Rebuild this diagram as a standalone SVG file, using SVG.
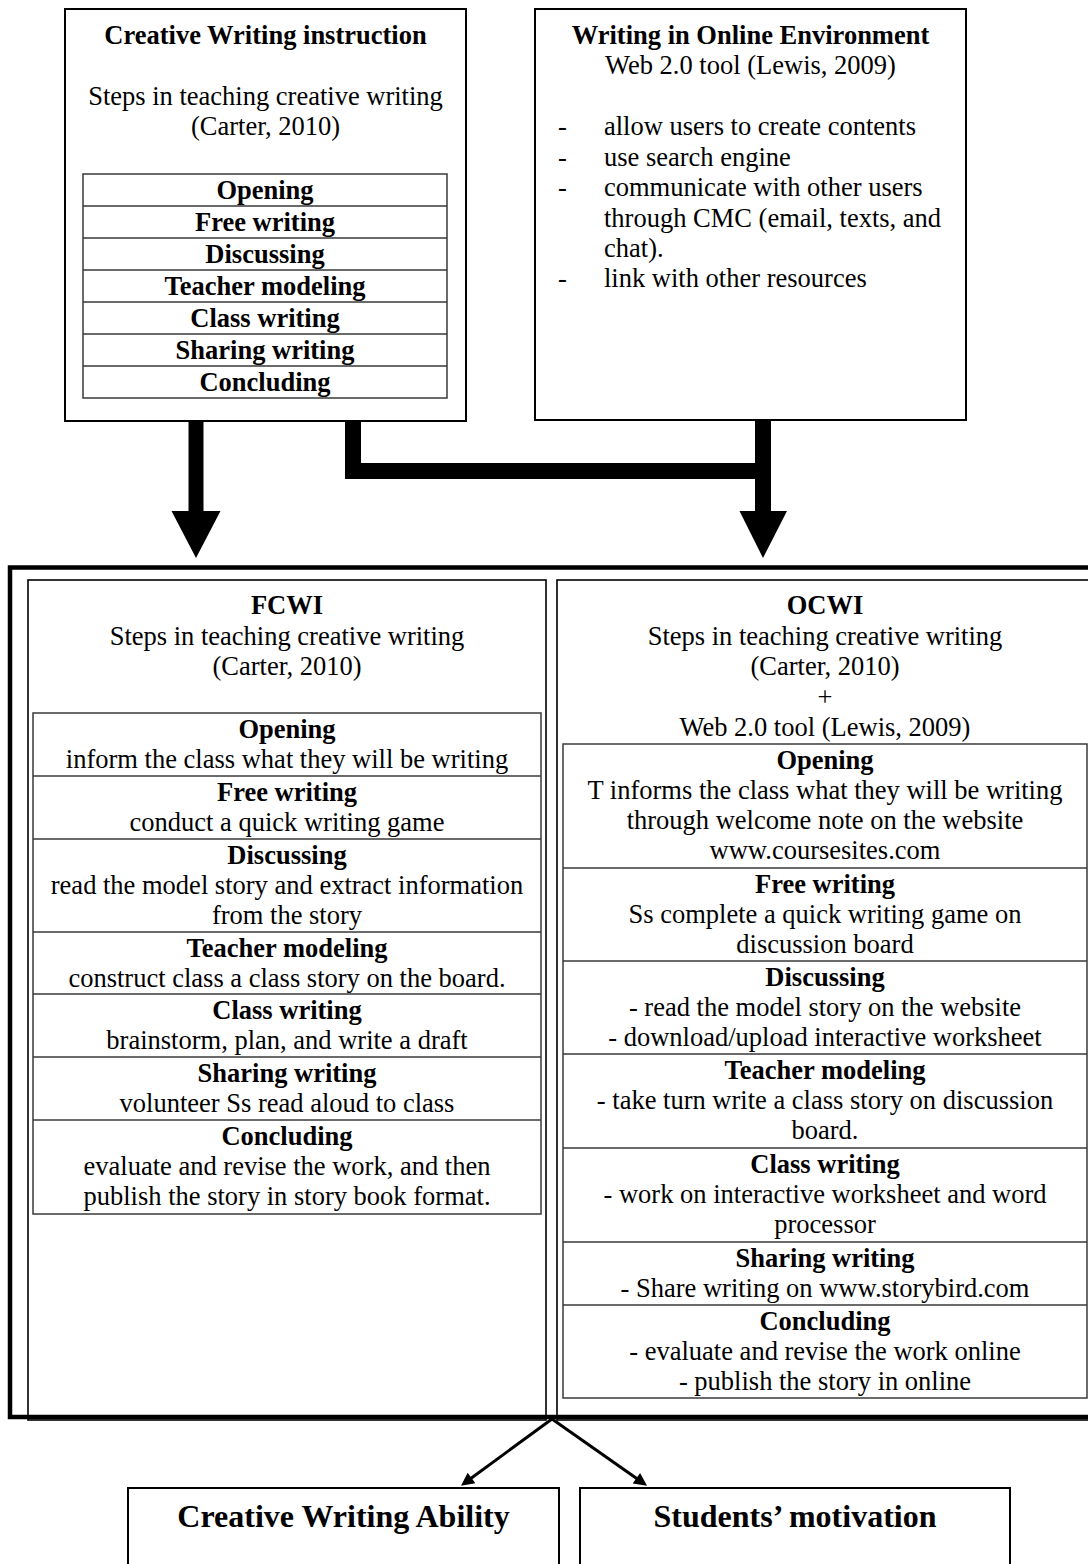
<svg xmlns="http://www.w3.org/2000/svg" width="1088" height="1564" viewBox="0 0 1088 1564">
<style>
.t{font-family:"Liberation Serif","Times New Roman",serif;font-size:26.5px;text-anchor:middle;fill:#000}
.b{font-weight:bold}
.s{text-anchor:start}
.big{font-size:32px}
.box{fill:#fff;stroke:#000;stroke-width:2}
.tbl{fill:none;stroke:#3a3a3a;stroke-width:1.5}
.frame{fill:none;stroke:#000;stroke-width:4.5}
.inner{fill:none;stroke:#000;stroke-width:1.6}
</style>
<defs>
<marker id="ah" viewBox="0 0 10 10" refX="2" refY="5" markerWidth="16" markerHeight="13" markerUnits="userSpaceOnUse" orient="auto"><path d="M0,0 L10,5 L0,10 z" fill="#000"/></marker>
</defs>
<rect width="1088" height="1564" fill="#fff"/>

<g id="creative-writing-instruction">
<rect class="box" x="65" y="9" width="401" height="412"/>
<text class="t b" x="265.5" y="44">Creative Writing instruction</text>
<text class="t" x="265.5" y="105">Steps in teaching creative writing</text>
<text class="t" x="265.5" y="135">(Carter, 2010)</text>
<rect class="tbl" x="83" y="174" width="364" height="224"/>
<path class="tbl" d="M83,206H447M83,238H447M83,270H447M83,302H447M83,334H447M83,366H447"/>
<text class="t b" x="265" y="199">Opening</text>
<text class="t b" x="265" y="231">Free writing</text>
<text class="t b" x="265" y="263">Discussing</text>
<text class="t b" x="265" y="295">Teacher modeling</text>
<text class="t b" x="265" y="327">Class writing</text>
<text class="t b" x="265" y="359">Sharing writing</text>
<text class="t b" x="265" y="391">Concluding</text>
</g>

<g id="writing-online-environment">
<rect class="box" x="535" y="9" width="431" height="411"/>
<text class="t b" x="750.5" y="44">Writing in Online Environment</text>
<text class="t" x="750.5" y="74">Web 2.0 tool (Lewis, 2009)</text>
<text class="t s" x="558" y="135">-</text>
<text class="t s" x="604" y="135">allow users to create contents</text>
<text class="t s" x="558" y="166">-</text>
<text class="t s" x="604" y="166">use search engine</text>
<text class="t s" x="558" y="196">-</text>
<text class="t s" x="604" y="196">communicate with other users</text>
<text class="t s" x="604" y="227">through CMC (email, texts, and</text>
<text class="t s" x="604" y="257">chat).</text>
<text class="t s" x="558" y="287">-</text>
<text class="t s" x="604" y="287">link with other resources</text>
</g>

<g id="instruction-frame">
<rect class="frame" x="10" y="567.5" width="1100" height="849.5"/>
</g>

<g id="fcwi">
<rect class="inner" x="28" y="580" width="518" height="840"/>
<text class="t b" x="287" y="614">FCWI</text>
<text class="t" x="287" y="645">Steps in teaching creative writing</text>
<text class="t" x="287" y="675">(Carter, 2010)</text>
<rect class="tbl" x="33" y="713" width="508" height="501"/>
<path class="tbl" d="M33,776H541M33,839H541M33,932H541M33,994H541M33,1057H541M33,1120H541"/>
<text class="t b" x="287" y="738">Opening</text>
<text class="t" x="287" y="768">inform the class what they will be writing</text>
<text class="t b" x="287" y="801">Free writing</text>
<text class="t" x="287" y="831">conduct a quick writing game</text>
<text class="t b" x="287" y="864">Discussing</text>
<text class="t" x="287" y="894">read the model story and extract information</text>
<text class="t" x="287" y="924">from the story</text>
<text class="t b" x="287" y="957">Teacher modeling</text>
<text class="t" x="287" y="987">construct class a class story on the board.</text>
<text class="t b" x="287" y="1019">Class writing</text>
<text class="t" x="287" y="1049">brainstorm, plan, and write a draft</text>
<text class="t b" x="287" y="1082">Sharing writing</text>
<text class="t" x="287" y="1112">volunteer Ss read aloud to class</text>
<text class="t b" x="287" y="1145">Concluding</text>
<text class="t" x="287" y="1175">evaluate and revise the work, and then</text>
<text class="t" x="287" y="1205">publish the story in story book format.</text>
</g>

<g id="ocwi">
<rect class="inner" x="557" y="580" width="540" height="840"/>
<text class="t b" x="825" y="614">OCWI</text>
<text class="t" x="825" y="645">Steps in teaching creative writing</text>
<text class="t" x="825" y="675">(Carter, 2010)</text>
<text class="t" x="825" y="706">+</text>
<text class="t" x="825" y="736">Web 2.0 tool (Lewis, 2009)</text>
<rect class="tbl" x="563" y="744" width="524" height="654"/>
<path class="tbl" d="M563,868H1087M563,961H1087M563,1054H1087M563,1148H1087M563,1242H1087M563,1305H1087"/>
<text class="t b" x="825" y="769">Opening</text>
<text class="t" x="825" y="799">T informs the class what they will be writing</text>
<text class="t" x="825" y="829">through welcome note on the website</text>
<text class="t" x="825" y="859">www.coursesites.com</text>
<text class="t b" x="825" y="893">Free writing</text>
<text class="t" x="825" y="923">Ss complete a quick writing game on</text>
<text class="t" x="825" y="953">discussion board</text>
<text class="t b" x="825" y="986">Discussing</text>
<text class="t" x="825" y="1016">- read the model story on the website</text>
<text class="t" x="825" y="1046">- download/upload interactive worksheet</text>
<text class="t b" x="825" y="1079">Teacher modeling</text>
<text class="t" x="825" y="1109">- take turn write a class story on discussion</text>
<text class="t" x="825" y="1139">board.</text>
<text class="t b" x="825" y="1173">Class writing</text>
<text class="t" x="825" y="1203">- work on interactive worksheet and word</text>
<text class="t" x="825" y="1233">processor</text>
<text class="t b" x="825" y="1267">Sharing writing</text>
<text class="t" x="825" y="1297">- Share writing on www.storybird.com</text>
<text class="t b" x="825" y="1330">Concluding</text>
<text class="t" x="825" y="1360">- evaluate and revise the work online</text>
<text class="t" x="825" y="1390">- publish the story in online</text>
</g>

<g id="creative-writing-ability">
<rect class="box" x="128" y="1488" width="431" height="90" stroke-width="2.5"/>
<text class="t b big" x="343.5" y="1527">Creative Writing Ability</text>
</g>

<g id="students-motivation">
<rect class="box" x="580" y="1488" width="430" height="90" stroke-width="2.5"/>
<text class="t b big" x="795" y="1527">Students’ motivation</text>
</g>

<g id="connectors">
<path d="M188.5,421H203.5V511H220.5L196,558L171.5,511H188.5Z" fill="#000"/>
<path d="M345,421H361V463H755V420H771V511H787L763,558L739.5,511H755V479H345Z" fill="#000"/>
<line x1="552" y1="1419" x2="469.4" y2="1479.5" stroke="#000" stroke-width="3" marker-end="url(#ah)"/>
<line x1="552" y1="1419" x2="638.5" y2="1479.7" stroke="#000" stroke-width="3" marker-end="url(#ah)"/>
</g>
</svg>
